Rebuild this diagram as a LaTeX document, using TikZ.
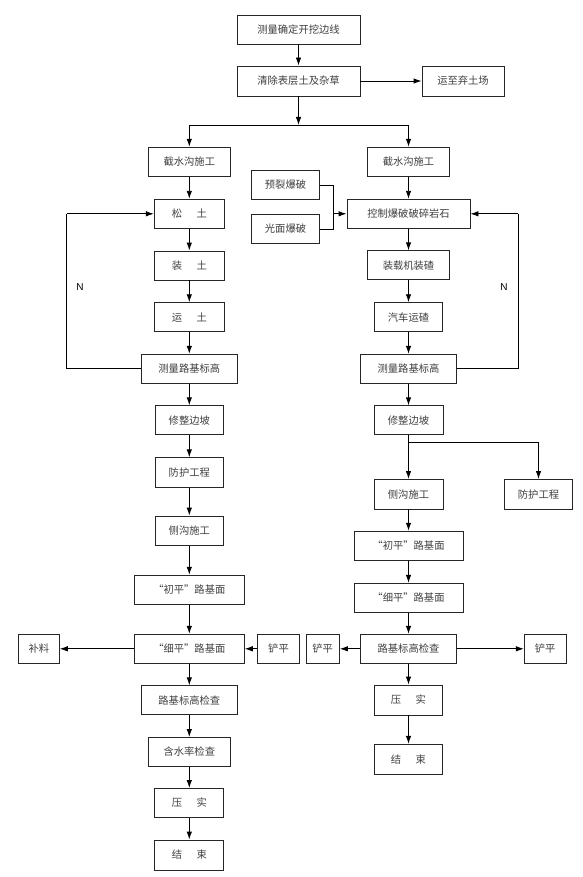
\documentclass[tikz,border=0pt]{standalone}
\usepackage{fontspec}
\newfontfamily\cjk{Noto Sans CJK SC}
\newfontfamily\latinsf{Liberation Sans}
\usetikzlibrary{arrows.meta}
\tikzset{
  box/.style={draw=black!85, line width=0.9pt, fill=white, inner sep=0pt,
    font=\cjk\fontsize{10.3}{12}\selectfont, text=black!75},
  conn/.style={draw=black, line width=0.9pt},
  arr/.style={conn, -{Latex[length=8pt,width=5.5pt]}},
  nlabel/.style={font=\latinsf\fontsize{10}{12}\selectfont, text=black}
}
\newcommand\mybox[6]{\node[box,minimum width=#4pt,minimum height=#5pt] (#1) at (#2,#3) {#6};}
\begin{document}
\begin{tikzpicture}[x=1pt,y=-1pt]
\useasboundingbox (0,0) rectangle (582,877);
\def\Lx{189.3}
\def\Rx{408.5}
% top
\mybox{top}{298.5}{29.5}{123}{29}{测量确定开挖边线}
\mybox{clear}{298.5}{81}{123}{30}{清除表层土及杂草}
\mybox{waste}{463}{81}{82}{30}{运至弃土场}
% left column
\mybox{lA}{\Lx}{162}{82}{29.5}{截水沟施工}
\mybox{lB}{\Lx}{213.8}{70}{29}{松\hspace{1.4em}土}
\mybox{lC}{\Lx}{265.5}{70}{29}{装\hspace{1.4em}土}
\mybox{lD}{\Lx}{317.2}{70}{29}{运\hspace{1.4em}土}
\mybox{lE}{\Lx}{368.8}{96}{29}{测量路基标高}
\mybox{lF}{\Lx}{420.3}{68}{29}{修整边坡}
\mybox{lG}{\Lx}{472.5}{68}{29.5}{防护工程}
\mybox{lH}{\Lx}{530.8}{68}{29.5}{侧沟施工}
\mybox{lI}{\Lx}{589.7}{110}{29}{“初平”路基面}
\mybox{lJ}{\Lx}{648.8}{110}{29}{“细平”路基面}
\mybox{lBu}{38.8}{648.8}{41}{29}{补料}
\mybox{lCh}{278.5}{648.8}{41.6}{29}{铲平}
\mybox{lK}{\Lx}{700.3}{96}{29}{路基标高检查}
\mybox{lL}{\Lx}{752}{82}{29}{含水率检查}
\mybox{lM}{\Lx}{803}{69}{29}{压\hspace{1.4em}实}
\mybox{lN}{\Lx}{855}{69}{30}{结\hspace{1.4em}束}
% right column
\mybox{rA}{\Rx}{162}{82}{29.5}{截水沟施工}
\mybox{yl}{285.5}{185}{68}{29}{预裂爆破}
\mybox{gm}{285.5}{229}{68}{29}{光面爆破}
\mybox{rB}{\Rx}{213.8}{123}{29}{控制爆破破碎岩石}
\mybox{rC}{\Rx}{265.3}{82}{29}{装载机装碴}
\mybox{rD}{\Rx}{317.2}{68}{29}{汽车运碴}
\mybox{rE}{\Rx}{368.8}{96}{29}{测量路基标高}
\mybox{rF}{\Rx}{420.3}{69}{29}{修整边坡}
\mybox{rG}{\Rx}{494.2}{69}{29.5}{侧沟施工}
\mybox{rFh}{538.5}{494.2}{68}{29.5}{防护工程}
\mybox{rH}{\Rx}{545.7}{109}{29}{“初平”路基面}
\mybox{rI}{\Rx}{597.8}{109}{29}{“细平”路基面}
\mybox{rJ}{\Rx}{648.8}{96}{29}{路基标高检查}
\mybox{rChL}{322.7}{648.8}{33.3}{29}{铲平}
\mybox{rChR}{545.2}{648.8}{41.7}{29}{铲平}
\mybox{rK}{\Rx}{700}{68}{30}{压\hspace{1.4em}实}
\mybox{rL}{\Rx}{759.3}{68}{30}{结\hspace{1.4em}束}
% coordinates
\coordinate (split) at (298.5,125);
\coordinate (splitL) at (\Lx,125);
\coordinate (splitR) at (\Rx,125);
\coordinate (mergeT) at (333,185);
\coordinate (mergeB) at (333,229);
\coordinate (mergeM) at (333,213.8);
\coordinate (loopLb) at (66.7,368.8);
\coordinate (loopLt) at (66.7,213.8);
\coordinate (loopRb) at (518.3,368.8);
\coordinate (loopRt) at (518.3,213.8);
\coordinate (brR) at (\Rx,442.3);
\coordinate (brRR) at (538.5,442.3);
% top connectors
\draw[arr] (top) -- (clear);
\draw[arr] (clear) -- (waste);
\draw[arr] (clear.south) -- (split);
\draw[conn] (splitL) -- (splitR);
\draw[arr] (splitL) -- (lA);
\draw[arr] (splitR) -- (rA);
% left column
\draw[arr] (lA) -- (lB);
\draw[arr] (lB) -- (lC);
\draw[arr] (lC) -- (lD);
\draw[arr] (lD) -- (lE);
\draw[arr] (lE) -- (lF);
\draw[arr] (lF) -- (lG);
\draw[arr] (lG) -- (lH);
\draw[arr] (lH) -- (lI);
\draw[arr] (lI) -- (lJ);
\draw[arr] (lJ) -- (lBu);
\draw[arr] (lCh) -- (lJ);
\draw[arr] (lJ) -- (lK);
\draw[arr] (lK) -- (lL);
\draw[arr] (lL) -- (lM);
\draw[arr] (lM) -- (lN);
\draw[conn] (lE.west) -- (loopLb) -- (loopLt);
\draw[arr] (loopLt) -- (lB.west);
\node[nlabel] (nL) at (80,287) {N};
% right column
\draw[arr] (rA) -- (rB);
\draw[conn] (yl.east) -- (mergeT) -- (mergeB) -- (gm.east);
\draw[arr] (mergeM) -- (rB.west);
\draw[arr] (rB) -- (rC);
\draw[arr] (rC) -- (rD);
\draw[arr] (rD) -- (rE);
\draw[arr] (rE) -- (rF);
\draw[conn] (rE.east) -- (loopRb) -- (loopRt);
\draw[arr] (loopRt) -- (rB.east);
\node[nlabel] (nR) at (504,287) {N};
\draw[arr] (rF) -- (rG);
\draw[conn] (brR) -- (brRR);
\draw[arr] (brRR) -- (rFh);
\draw[arr] (rG) -- (rH);
\draw[arr] (rH) -- (rI);
\draw[arr] (rI) -- (rJ);
\draw[arr] (rJ) -- (rChL);
\draw[arr] (rJ) -- (rChR);
\draw[arr] (rJ) -- (rK);
\draw[arr] (rK) -- (rL);
\end{tikzpicture}
\end{document}
